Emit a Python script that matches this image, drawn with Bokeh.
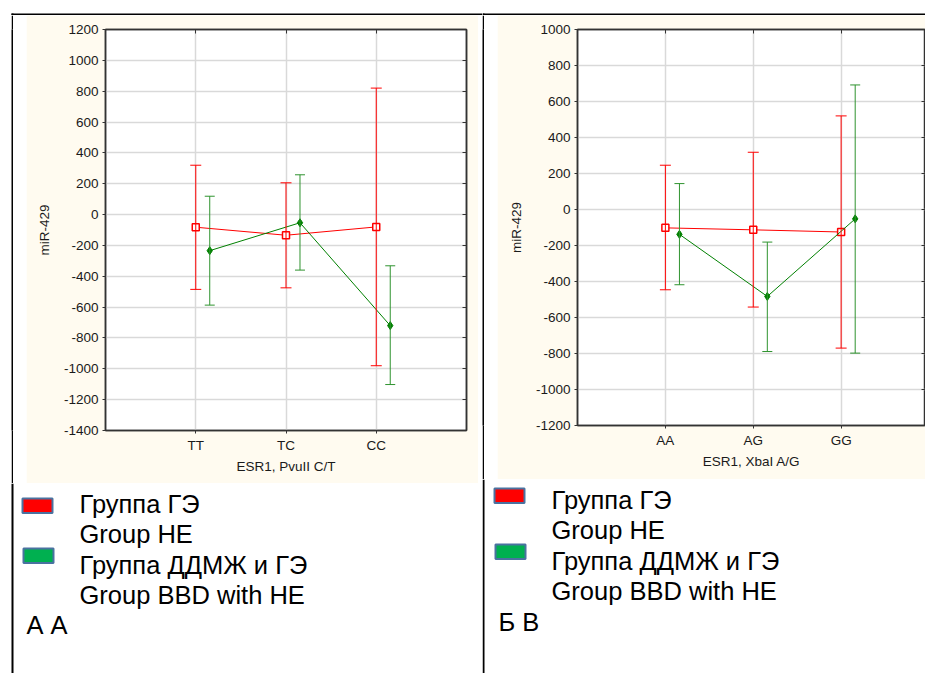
import numpy as np
from bokeh.plotting import figure
from bokeh.models import (Range1d, LinearAxis, FixedTicker, Whisker, TeeHead,
                          ColumnDataSource, Spacer)
from bokeh.layouts import row, column
from bokeh.embed import file_html
from bokeh.resources import INLINE
from bokeh.core.properties import value

# ---------------- data ----------------
cats_a = ["TT", "TC", "CC"]
he_mean_a = [-82, -134, -80]
he_upper_a = [320, 206, 820]
he_lower_a = [-485, -475, -980]
bbd_mean_a = [-234, -53, -720]
bbd_upper_a = [119, 258, -332]
bbd_lower_a = [-587, -360, -1102]
yticks_a = list(range(-1400, 1201, 200))
xlabel_a = "ESR1, PvuII C/T"

cats_b = ["AA", "AG", "GG"]
he_mean_b = [-102, -113, -125]
he_upper_b = [246, 318, 520]
he_lower_b = [-446, -542, -770]
bbd_mean_b = [-138, -483, -52]
bbd_upper_b = [144, -181, 692]
bbd_lower_b = [-418, -789, -798]
yticks_b = list(range(-1200, 1001, 200))
xlabel_b = "ESR1, XbaI A/G"

ylabel = "miR-429"
legend_lines = ["Группа ГЭ", "Group HE", "Группа ДДМЖ и ГЭ", "Group BBD with HE"]
panel_tag_a = "А А"
panel_tag_b = "Б В"

# ---------------- style ----------------
CREAM = "#FFFBF0"
RED = "#ff0000"
GREEN = "#008000"
GREEN_ERR = "#2f932f"
GRID = "#d9d9d9"
FRAME = "#333333"
TXT = "#1a1a1a"
SANS = "Liberation Sans"
LEG_FONT = "Liberation Sans"
BOXLINE = "#4a72a0"


def chart(cats, he_m, he_u, he_l, bb_m, bb_u, bb_l, yticks, xlabel,
          width, height, mbl, mbr, mbt, mbb, x_end, dodge):
    p = figure(width=width, height=height, output_backend="svg",
               toolbar_location=None,
               x_range=Range1d(0, x_end),
               y_range=Range1d(yticks[0], yticks[-1]),
               min_border_left=mbl, min_border_right=mbr,
               min_border_top=mbt, min_border_bottom=mbb)
    p.border_fill_color = CREAM
    p.background_fill_color = "white"
    p.outline_line_color = FRAME
    p.outline_line_width = 1.5

    idx = list(range(1, len(cats) + 1))
    xs = np.array(idx, dtype=float)
    xg = xs + dodge

    p.xaxis.ticker = FixedTicker(ticks=idx)
    p.xaxis.major_label_overrides = {i: c for i, c in zip(idx, cats)}
    p.yaxis.ticker = FixedTicker(ticks=yticks)
    p.yaxis.major_label_overrides = {t: str(t) for t in yticks}
    p.xgrid.ticker = FixedTicker(ticks=idx)
    p.ygrid.ticker = FixedTicker(ticks=yticks)
    for ax in (p.xaxis, p.yaxis):
        ax.major_label_text_font = SANS
        ax.major_label_text_font_size = "13.5px"
        ax.major_label_text_color = TXT
        ax.axis_label_text_font = SANS
        ax.axis_label_text_font_size = "13.5px"
        ax.axis_label_text_font_style = "normal"
        ax.axis_label_text_color = TXT
        ax.axis_line_color = FRAME
        ax.axis_line_width = 1.5
        ax.major_tick_line_color = FRAME
        ax.major_tick_in = 0
        ax.major_tick_out = 3
        ax.minor_tick_line_color = None
        ax.major_label_standoff = 4
    p.xaxis.axis_label = xlabel
    p.yaxis.axis_label = ylabel
    p.xaxis.axis_label_standoff = 3
    p.yaxis.axis_label_standoff = 9

    for ticks, place in ((yticks, "right"), (idx, "above")):
        ax = LinearAxis(ticker=FixedTicker(ticks=ticks),
                        major_label_text_font_size="1px",
                        major_label_text_color=None,
                        major_label_standoff=0, major_tick_in=4,
                        major_tick_out=0, axis_line_color=FRAME,
                        axis_line_width=1.5, major_tick_line_color=FRAME,
                        minor_tick_line_color=None)
        p.add_layout(ax, place)

    p.grid.grid_line_color = GRID
    p.grid.grid_line_width = 1.5

    # red series (Group HE)
    src_r = ColumnDataSource(dict(x=xs, m=he_m, u=he_u, l=he_l))
    p.add_layout(Whisker(source=src_r, base="x", upper="u", lower="l",
                         line_color=RED, line_width=1,
                         upper_head=TeeHead(size=11, line_color=RED, line_width=1),
                         lower_head=TeeHead(size=11, line_color=RED, line_width=1),
                         level="glyph"))
    p.line("x", "m", source=src_r, line_color=RED, line_width=1)
    p.scatter("x", "m", source=src_r, marker="square", size=7,
              fill_color="white", line_color=RED, line_width=1.5)

    # green series (Group BBD with HE)
    src_g = ColumnDataSource(dict(x=xg, m=bb_m, u=bb_u, l=bb_l))
    p.add_layout(Whisker(source=src_g, base="x", upper="u", lower="l",
                         line_color=GREEN_ERR, line_width=1,
                         upper_head=TeeHead(size=10, line_color=GREEN_ERR, line_width=1),
                         lower_head=TeeHead(size=10, line_color=GREEN_ERR, line_width=1),
                         level="glyph"))
    p.line("x", "m", source=src_g, line_color=GREEN, line_width=1)
    p.scatter("x", "m", source=src_g, marker="diamond", size=8,
              fill_color=GREEN, line_color=GREEN, line_width=1)
    return p


def deco(x0, x1, ytop, ybot):
    w = x1 - x0
    h = ybot - ytop
    p = figure(width=w, height=h, output_backend="svg", toolbar_location=None,
               x_range=Range1d(x0, x1), y_range=Range1d(ybot, ytop),
               x_axis_type=None, y_axis_type=None, min_border=0)
    p.outline_line_color = None
    p.background_fill_color = "white"
    p.border_fill_color = "white"
    return p


def vline(h):
    p = figure(width=2, height=h, output_backend="svg", toolbar_location=None,
               x_axis_type=None, y_axis_type=None, min_border=0)
    p.outline_line_color = None
    p.background_fill_color = "black"
    p.border_fill_color = "black"
    return p


def black(p, l, r, t, b):
    p.quad(left=[l], right=[r], top=[t], bottom=[b], fill_color="black",
           line_color=None)


def legend(p, bx, by_red, by_green, tx, baselines, tag_x, tag):
    p.quad(left=[bx], right=[bx + 30], top=[by_red], bottom=[by_red + 14.5],
           fill_color=RED, line_color=BOXLINE, line_width=2)
    p.quad(left=[bx + 1], right=[bx + 31], top=[by_green], bottom=[by_green + 14.5],
           fill_color="#00b050", line_color=BOXLINE, line_width=2)
    src = ColumnDataSource(dict(x=[tx] * 4 + [tag_x], y=baselines,
                                t=legend_lines + [tag]))
    p.text(x="x", y="y", text="t", source=src,
           text_font=value(LEG_FONT), text_font_size="25.5px",
           text_color="black", text_baseline="alphabetic", text_align="left")


# ---------------- left panel ----------------
lt = deco(0, 482, 0, 15)
black(lt, 11, 13, 13, 15)
black(lt, 11, 482, 13, 15)
lc = chart(cats_a, he_mean_a, he_upper_a, he_lower_a,
           bbd_mean_a, bbd_upper_a, bbd_lower_a, yticks_a, xlabel_a,
           width=452, height=468, mbl=79, mbr=12, mbt=14, mbb=53,
           x_end=4.0, dodge=0.155)
ll = deco(0, 482, 483, 673)
black(ll, 11, 13, 483, 673)
legend(ll, 22, 498, 548, 79, [503.5, 533.5, 564, 594.5, 624.5], 26, panel_tag_a)
left = column(lt,
              row(Spacer(width=11, height=468), vline(468),
                  Spacer(width=13, height=468), lc, Spacer(width=4, height=468)),
              ll)

# ---------------- right panel ----------------
rt = deco(482, 925, 0, 15)
black(rt, 482, 484, 13, 15)
black(rt, 482, 925, 13, 15)
rc = chart(cats_b, he_mean_b, he_upper_b, he_lower_b,
           bbd_mean_b, bbd_upper_b, bbd_lower_b, yticks_b, xlabel_b,
           width=428, height=464, mbl=80, mbr=0, mbt=14, mbb=54,
           x_end=3.96, dodge=0.16)
rl = deco(482, 925, 479, 673)
black(rl, 482, 484, 479, 673)
legend(rl, 494, 488, 544, 551, [499, 529, 560, 590, 621], 498, panel_tag_b)
right = column(rt,
               row(vline(464), Spacer(width=13, height=464), rc),
               rl)

layout = row(left, right)
open("out.html", "w").write(file_html(layout, INLINE))
